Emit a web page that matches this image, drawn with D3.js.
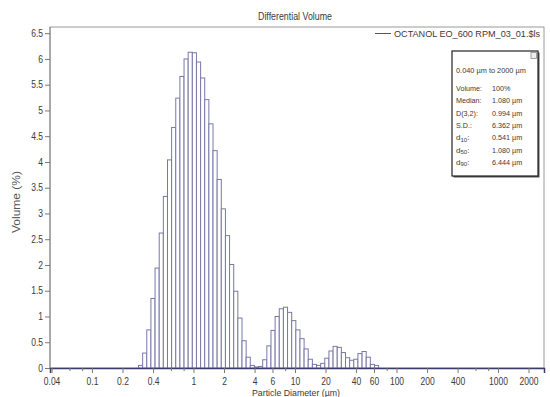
<!DOCTYPE html>
<html><head><meta charset="utf-8">
<script src="https://cdn.jsdelivr.net/npm/d3@7/dist/d3.min.js"></script>
<style>
html,body{margin:0;padding:0;background:#fff;}
svg{display:block;font-family:"Liberation Sans",Arial,sans-serif;}
</style></head>
<body><svg id="chart" width="550" height="397"></svg>
<script>
// ---- data ----
const channelEdges = [0.2874,0.3157,0.3468,0.3809,0.4184,0.4597,0.5049,0.5546,0.6092,0.6692,
  0.7351,0.8075,0.8870,0.9744,1.070,1.176,1.291,1.418,1.558,1.711,
  1.880,2.065,2.268,2.492,2.737,3.007,3.303,3.628,3.985,4.378,
  4.809,5.283,5.803,6.375,7.003,7.692,8.450,9.282,10.20,11.20,
  12.30,13.51,14.84,16.31,17.91,19.67,21.61,23.74,26.08,28.65,
  31.47,34.57,37.97,41.71,45.82,50.33,55.29,60.73,66.71];
const volumePct = [0.05,0.29,0.74,1.35,1.94,2.62,3.33,4.04,4.67,5.24,
  5.66,6.00,6.13,6.12,5.94,5.63,5.21,4.74,4.22,3.66,
  3.09,2.57,2.01,1.49,0.97,0.53,0.21,0.05,0.02,0.03,
  0.16,0.43,0.73,1.00,1.15,1.18,1.08,0.92,0.74,0.57,
  0.37,0.17,0.07,0.05,0.09,0.19,0.33,0.42,0.40,0.30,
  0.20,0.15,0.17,0.28,0.32,0.21,0.07,0.05];
const xTickValues = [0.04,0.1,0.2,0.4,1,2,4,6,10,20,40,60,100,200,400,1000,2000];
const xTickLabels = ["0.04","0.1","0.2","0.4","1","2","4","6","10","20","40","60","100","200","400","1000","2000"];
const xMinorTicks = [0.06,0.08,0.6,0.8,8,80,600,800];
const yTickValues = [0,0.5,1,1.5,2,2.5,3,3.5,4,4.5,5,5.5,6,6.5];
const yTickLabels = ["0","0.5","1","1.5","2","2.5","3","3.5","4","4.5","5","5.5","6","6.5"];
const statLabels = ["Volume:","Median:","D(3,2):","S.D.:","d10:","d50:","d90:"];
const statValues = ["100%","1.080 µm","0.994 µm","6.362 µm","0.541 µm","1.080 µm","6.444 µm"];
const rangeText = "0.040 µm to 2000 µm";
const titleText = "Differential Volume";
const legendText = "OCTANOL EO_600 RPM_03_01.$ls";
const xLabelText = "Particle Diameter (µm)";
const yLabelText = "Volume (%)";

// ---- layout ----
const L = 50, R = 544, T = 27, B = 368;
const svg = d3.select("#chart");
const x = d3.scaleLog().domain([0.0386, 2840]).range([L, R]);
const y = d3.scaleLinear().domain([0, 6.62]).range([B, T]);
const textCol = "#3a3a3a";

function squeeze(sel, f){ sel.each(function(){ const w=this.getComputedTextLength(); d3.select(this).attr("textLength", w*f).attr("lengthAdjust","spacingAndGlyphs"); }); }

// frame
svg.append("rect").attr("x",L).attr("y",T).attr("width",R-L).attr("height",B-T)
  .attr("fill","none").attr("stroke","#9a9a9a").attr("stroke-width",1);

// bars
const bins = volumePct.map((v,i)=>({x0:channelEdges[i], x1:channelEdges[i+1], v}));
svg.append("g").selectAll("rect").data(bins).join("rect")
  .attr("x",d=>x(d.x0)).attr("width",d=>x(d.x1)-x(d.x0))
  .attr("y",d=>y(d.v)).attr("height",d=>y(0)-y(d.v))
  .attr("fill","#ffffff").attr("stroke","#7878a8").attr("stroke-width",1);

// x axis
const xAxis = d3.axisBottom(x).tickValues(xTickValues)
  .tickFormat((d,i)=>xTickLabels[i]).tickSize(5).tickPadding(5);
const gx = svg.append("g").attr("transform",`translate(0,${B})`).call(xAxis);
gx.select(".domain").attr("stroke","#3c3c6c").attr("stroke-width",1.5);
gx.selectAll(".tick line").attr("stroke","#777");
gx.selectAll(".tick text").attr("fill",textCol).style("font-size","10px").call(squeeze,0.85);
const gxm = svg.append("g").attr("transform",`translate(0,${B})`)
  .call(d3.axisBottom(x).tickValues(xMinorTicks).tickFormat("").tickSize(3));
gxm.select(".domain").remove();
gxm.selectAll(".tick line").attr("stroke","#777");

// y axis
const yAxis = d3.axisLeft(y).tickValues(yTickValues)
  .tickFormat((d,i)=>yTickLabels[i]).tickSize(5).tickPadding(2);
const gy = svg.append("g").attr("transform",`translate(${L},0)`).call(yAxis);
gy.select(".domain").attr("stroke","#888").attr("d",`M0,${T}V${B}`);
gy.selectAll(".tick line").attr("stroke","#777");
gy.selectAll(".tick text").attr("fill",textCol).style("font-size","10px").call(squeeze,0.85);

// title
svg.append("text").attr("x",295).attr("y",20).attr("text-anchor","middle")
  .attr("fill",textCol).style("font-size","10px").text(titleText)
  .attr("textLength",74).attr("lengthAdjust","spacingAndGlyphs");

// axis labels
svg.append("text").attr("x",296).attr("y",396).attr("text-anchor","middle")
  .attr("fill",textCol).style("font-size","9.5px").text(xLabelText)
  .attr("textLength",88).attr("lengthAdjust","spacingAndGlyphs");
svg.append("text").attr("transform","translate(20,202) rotate(-90)").attr("text-anchor","middle")
  .attr("fill","#555").style("font-size","10.5px").text(yLabelText)
  .attr("textLength",62).attr("lengthAdjust","spacingAndGlyphs");

// legend
svg.append("line").attr("x1",375).attr("x2",391).attr("y1",33.5).attr("y2",33.5)
  .attr("stroke","#555").attr("stroke-width",1);
svg.append("text").attr("x",394).attr("y",37).attr("fill",textCol)
  .style("font-size","9.1px").text(legendText);

// stats box
const bx = 452, by = 51, bw = 86, bh = 125;
svg.append("rect").attr("x",bx+1.5).attr("y",by+1.5).attr("width",bw).attr("height",bh)
  .attr("fill","#555");
svg.append("rect").attr("x",bx).attr("y",by).attr("width",bw).attr("height",bh)
  .attr("fill","#fff").attr("stroke","#222").attr("stroke-width",1.2);
svg.append("rect").attr("x",bx+bw-7).attr("y",by+1.5).attr("width",5.5).attr("height",6)
  .attr("fill","#eee").attr("stroke","#888").attr("stroke-width",0.8);
svg.append("text").attr("x",bx+4).attr("y",73).attr("fill",textCol)
  .style("font-size","8px").text(rangeText).call(squeeze,0.92);
const sl = svg.append("g");
statLabels.forEach((s,i)=>{
  const yy = 91 + i*12.3;
  const t = sl.append("text").attr("x",bx+4).attr("y",yy).attr("fill",textCol).style("font-size","8px");
  if (/^d\d+:$/.test(s)) {
    t.text("d");
    t.append("tspan").attr("dy",1.5).style("font-size","6px").text(s.slice(1,-1));
    t.append("tspan").attr("dy",-1.5).text(":");
  } else {
    t.text(s).call(squeeze,0.9);
  }
  sl.append("text").attr("x",492).attr("y",yy).attr("fill",textCol).style("font-size","8px")
    .text(statValues[i]).call(squeeze,0.9);
});
</script></body></html>
